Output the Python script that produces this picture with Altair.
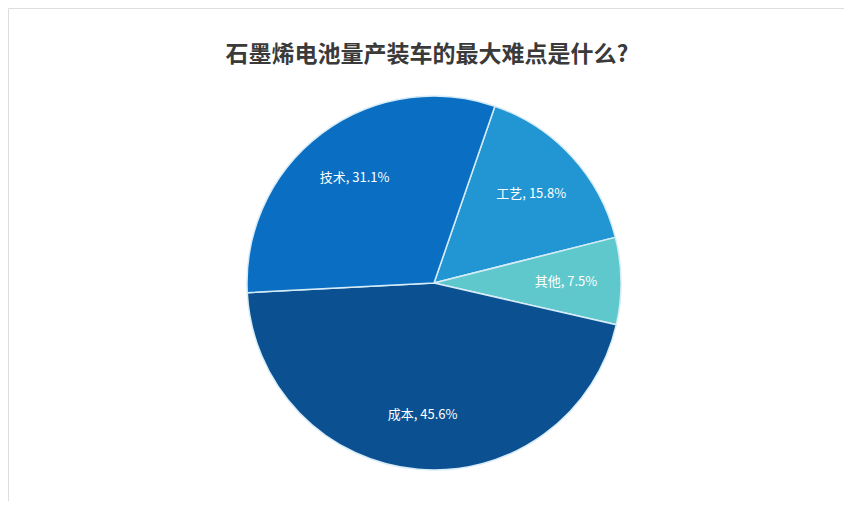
import math
import altair as alt
import pandas as pd

# Data (clockwise order starting at ~19° from 12 o'clock)
categories = ["工艺", "其他", "成本", "技术"]
values = [15.8, 7.5, 45.6, 31.1]
colors = ["#2196d3", "#5ec8cc", "#0b5191", "#0a6fc2"]
title_text = "石墨烯电池量产装车的最大难点是什么?"

df = pd.DataFrame({
    "cat": categories,
    "value": values,
    "order": list(range(len(categories))),
})
df["label"] = [f"{c}, {v}%" for c, v in zip(df["cat"], df["value"])]

start = math.radians(19)
theta_scale = alt.Scale(domain=[0, 100], range=[start, start + 2 * math.pi])
color_scale = alt.Scale(domain=categories, range=colors)

CX, CY = 426, 275
R = 187

base = alt.Chart(df).encode(
    theta=alt.Theta("value:Q", stack=True, scale=theta_scale),
    order=alt.Order("order:Q"),
)

arcs = base.mark_arc(stroke="#d6ecf8", strokeWidth=1.5).encode(
    color=alt.Color("cat:N", scale=color_scale, legend=None),
    x=alt.value(CX),
    y=alt.value(CY),
    radius=alt.value(R),
)

labels = base.mark_text(
    color="white", fontSize=13, font="Noto Sans CJK SC", align="center", baseline="middle"
).encode(
    text="label:N",
    x=alt.value(CX),
    y=alt.value(CY),
    radius=alt.value(132),
)

title = alt.Chart(pd.DataFrame({"t": [title_text]})).mark_text(
    fontSize=23, fontWeight="bold", color="#3a3a3a", font="Noto Sans CJK SC",
    align="center", baseline="middle"
).encode(text="t:N", x=alt.value(419), y=alt.value(47))

chart = alt.layer(arcs, labels, title).properties(
    width=836, height=493, padding=0, autosize=alt.AutoSizeParams(type="none")
).configure_view(strokeWidth=0, stroke="transparent").configure(background="white")

chart.save("out.html", embed_options={"renderer": "svg", "actions": False})
